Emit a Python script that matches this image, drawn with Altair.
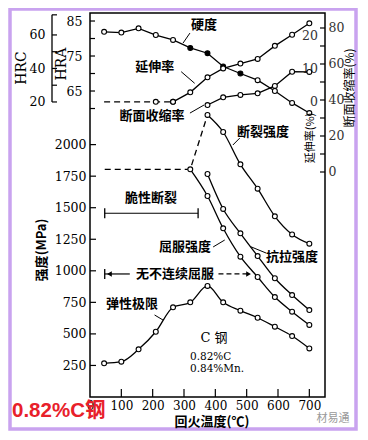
import altair as alt
import pandas as pd

# ---------------- values ----------------
temps = [45, 100, 155, 210, 265, 320, 375, 425, 480, 535, 590, 645, 700]
elastic_limit = [267, 280, 378, 517, 711, 750, 880, 750, 684, 628, 557, 483, 385]
hardness_hra = [81.9, 81.7, 82.9, 81.0, 79.6, 77.3, 75.8, 72.0, 70.0, 68.1, 65.0, 61.6, 58.7]

yield_T = [320, 375, 425, 480, 535, 590, 645, 700]
yield_strength = [1804, 1593, 1337, 1112, 951, 792, 676, 571]

upper_T = [375, 425, 480, 535, 590, 645, 700]
tensile_strength = [1767, 1490, 1297, 1117, 941, 808, 689]
fracture_strength = [2235, 2100, 1844, 1651, 1432, 1288, 1215]
reduction_area = [37.2, 41.5, 42.8, 43.7, 47.8, 55.7, 55.6]

elong_T = [265, 320, 375, 425, 480, 535, 590, 645, 700]
elongation = [0, 2.9, 7.5, 10.2, 11.7, 13.1, 17.1, 20.5, 24.0]
elong_zero_T = [45, 210, 265]
elong_zero = [0, 0, 0]

brittle_dash_T = [47, 320, 375]
brittle_dash_mpa = [1804, 1804, 2235]
brittle_span = [47, 345]
brittle_level = 1456
no_yield_level = 975
no_yield_left = [47, 127]
no_yield_right = [410, 512]

mpa_ticks = [250, 500, 750, 1000, 1250, 1500, 1750, 2000]
hra_ticks = [60, 65, 70, 75, 80, 85]
hra_labels = [65, 75, 85]
hrc_ticks = [20, 30, 40, 50, 60, 72]
hrc_labels = [20, 40, 60]
hrc_span = [20, 72]
ra_ticks = [0, 10, 20, 30, 40, 50, 60, 70, 80]
ra_labels = [0, 20, 40, 60, 80]
el_labels = [0, 10, 20]
x_ticks = [100, 200, 300, 400, 500, 600, 700]
x_labels = [0, 100, 200, 300, 400, 500, 600, 700]

# ---------------- setup ----------------
W, H = 235, 384
SERIF = "DejaVu Serif"
CJK = "Noto Sans CJK SC"
MIX = "DejaVu Serif, Noto Sans CJK SC"

XS = alt.Scale(domain=[0, 750], nice=False, zero=False)
XAX = alt.Axis(values=x_labels, ticks=False, domain=False, grid=False,
               labelFont=SERIF, labelFontSize=12, labelColor="black",
               labelPadding=3, labelFlush=False, format="d", title=None)

MPA = alt.Scale(domain=[0, 3043], nice=False, zero=False)
HRA = alt.Scale(domain=[-22.43, 87.29], nice=False, zero=False)
HRC = alt.Scale(domain=[-156.1, 73.1], nice=False, zero=False)
EL = alt.Scale(domain=[-90.16, 27.14], nice=False, zero=False)
RA = alt.Scale(domain=[-125.0, 88.33], nice=False, zero=False)


def X(field="T"):
    return alt.X(f"{field}:Q", scale=XS, axis=XAX)


def Y(scale, field="v", axis=None):
    return alt.Y(f"{field}:Q", scale=scale, axis=axis)


def frame(**cols):
    return pd.DataFrame(cols)


def line_layer(T, v, scale, dash=None, interp="monotone", width=1.3):
    kw = dict(color="black", strokeWidth=width, interpolate=interp)
    if dash:
        kw["strokeDash"] = dash
    return alt.Chart(frame(T=T, v=v)).mark_line(**kw).encode(x=X(), y=Y(scale))


def point_layer(T, v, scale, fill="white", flt=None):
    c = alt.Chart(frame(T=T, v=v))
    if flt is not None:
        c = c.transform_filter(flt)
    return c.mark_point(shape="circle", filled=True, fill=fill, stroke="black",
                        strokeWidth=1.1, size=24, opacity=1).encode(x=X(), y=Y(scale))


def label(text, T, v, size=13, align="center", font=CJK, weight="bold"):
    return alt.Chart(frame(T=[T], v=[v])).mark_text(
        text=text, fontSize=size, font=font, align=align, baseline="middle",
        color="black", fontWeight=weight).encode(x=X(), y=Y(MPA))


def leader(T0, v0, T1, v1):
    return alt.Chart(frame(T=[T0, T1], v=[v0, v1])).mark_line(
        color="black", strokeWidth=1).encode(x=X(), y=Y(MPA))


def ptext(text, px, py, size, font=CJK, angle=0, align="center",
          color="black", weight="normal"):
    return alt.Chart(frame(a=[0])).mark_text(
        text=text, fontSize=size, font=font, angle=angle, align=align,
        baseline="middle", color=color, fontWeight=weight).encode(
        x=alt.value(px - 90), y=alt.value(py - 13))


AXIS_LABEL = dict(ticks=False, domain=False, grid=False, labelFont=SERIF,
                  labelFontSize=12.5, title=None, format="d")

layers = []

# outer purple frame
layers.append(alt.Chart(frame(a=[0])).mark_rect(
    fillOpacity=0, stroke="#c9a3ef", strokeWidth=3.5).encode(
    x=alt.value(-80), x2=alt.value(266), y=alt.value(-4), y2=alt.value(416)))

# ---- axes: MPa (left) with inward ticks ----
layers.append(alt.Chart(frame(v=mpa_ticks)).mark_rule(color="black", strokeWidth=1.2).encode(
    y=Y(MPA, axis=alt.Axis(orient="left", values=mpa_ticks, labelColor="black",
                           labelPadding=4, **AXIS_LABEL)),
    x=alt.value(0), x2=alt.value(6)))

# HRA (left, upper part)
layers.append(alt.Chart(frame(v=hra_ticks)).mark_rule(color="black", strokeWidth=1.2).encode(
    y=Y(HRA, axis=alt.Axis(orient="left", values=hra_labels, labelColor="black",
                           labelPadding=8, **AXIS_LABEL)),
    x=alt.value(0), x2=alt.value(5)))

# HRC bracket axis
layers.append(alt.Chart(frame(lo=[hrc_span[0]], hi=[hrc_span[1]])).mark_rule(
    color="black", strokeWidth=1.3).encode(
    y=alt.Y("lo:Q", scale=HRC, axis=alt.Axis(orient="left", offset=38, values=hrc_labels,
                                             labelColor="black", labelPadding=7,
                                             **AXIS_LABEL)),
    y2="hi:Q", x=alt.value(-38)))
layers.append(alt.Chart(frame(v=hrc_ticks)).mark_rule(color="black", strokeWidth=1.2).encode(
    y=Y(HRC), x=alt.value(-38), x2=alt.value(-33)))

# RA (right) with inward ticks
layers.append(alt.Chart(frame(v=ra_ticks)).mark_rule(color="black", strokeWidth=1.2).encode(
    y=Y(RA, axis=alt.Axis(orient="right", values=ra_labels, labelColor="#333",
                          labelPadding=3, **AXIS_LABEL)),
    x=alt.value(W), x2=alt.value(W - 5)))

# Elongation labels (inside, left of right axis)
layers.append(alt.Chart(frame(v=el_labels)).mark_text(
    align="right", baseline="middle", font=SERIF, fontSize=12.5, color="#333").encode(
    y=Y(EL), x=alt.value(W - 7), text=alt.Text("v:Q", format="d")))

# x ticks (inward)
layers.append(alt.Chart(frame(T=x_ticks)).mark_rule(color="black", strokeWidth=1.2).encode(
    x=X(), y=alt.value(H), y2=alt.value(H - 8)))

# ---- curves ----
# hardness (HRA)
layers.append(line_layer(temps, hardness_hra, HRA, interp="linear"))
layers.append(point_layer(temps, hardness_hra, HRA,
                          flt=(alt.datum.T < 320) | (alt.datum.T > 480)))
layers.append(point_layer(temps, hardness_hra, HRA, fill="black",
                          flt=(alt.datum.T >= 320) & (alt.datum.T <= 480)))

# elongation
layers.append(line_layer(elong_zero_T, elong_zero, EL, dash=[6, 4], interp="linear"))
layers.append(point_layer(elong_zero_T[1:], elong_zero[1:], EL))
layers.append(line_layer(elong_T, elongation, EL, interp="linear"))
layers.append(point_layer(elong_T, elongation, EL))

# reduction of area
layers.append(line_layer(upper_T, reduction_area, RA, interp="linear"))
layers.append(point_layer(upper_T, reduction_area, RA))

# strengths
layers.append(line_layer(brittle_dash_T, brittle_dash_mpa, MPA, dash=[6, 4], interp="linear"))
layers.append(line_layer(upper_T, fracture_strength, MPA))
layers.append(point_layer(upper_T, fracture_strength, MPA))
layers.append(line_layer(yield_T, yield_strength, MPA))
layers.append(point_layer(yield_T, yield_strength, MPA))
layers.append(line_layer(upper_T, tensile_strength, MPA))
layers.append(point_layer(upper_T, tensile_strength, MPA))
layers.append(line_layer(temps, elastic_limit, MPA))
layers.append(point_layer(temps, elastic_limit, MPA))

# brittle fracture bracket
layers.append(alt.Chart(frame(T=[brittle_span[0]], T2=[brittle_span[1]], v=[brittle_level]))
              .mark_rule(color="black", strokeWidth=1.2)
              .encode(x=X(), x2="T2:Q", y=Y(MPA)))
layers.append(alt.Chart(frame(T=brittle_span, v=[brittle_level] * 2))
              .mark_tick(orient="vertical", size=10, thickness=1.3, color="black", opacity=1)
              .encode(x=X(), y=Y(MPA)))

# no discontinuous yield arrow
layers.append(alt.Chart(frame(T=[no_yield_left[0]], T2=[no_yield_left[1]], v=[no_yield_level]))
              .mark_rule(color="black", strokeWidth=1.2)
              .encode(x=X(), x2="T2:Q", y=Y(MPA)))
layers.append(alt.Chart(frame(T=[no_yield_left[0]], v=[no_yield_level]))
              .mark_tick(orient="vertical", size=10, thickness=1.3, color="black", opacity=1)
              .encode(x=X(), y=Y(MPA)))
layers.append(alt.Chart(frame(T=[no_yield_left[0] + 15], v=[no_yield_level]))
              .mark_point(shape="triangle-left", filled=True, color="black", size=30, opacity=1)
              .encode(x=X(), y=Y(MPA)))
layers.append(alt.Chart(frame(T=no_yield_right, v=[no_yield_level] * 2))
              .mark_line(color="black", strokeWidth=1.2, strokeDash=[5, 3])
              .encode(x=X(), y=Y(MPA)))
layers.append(alt.Chart(frame(T=[no_yield_right[1] - 6], v=[no_yield_level]))
              .mark_point(shape="triangle-right", filled=True, color="black", size=30, opacity=1)
              .encode(x=X(), y=Y(MPA)))

# ---- in-plot labels ----
layers += [
    label("硬度", 364, 2948),
    label("延伸率", 207, 2615),
    label("断面收缩率", 198, 2227),
    label("断裂强度", 552, 2100),
    label("屈服强度", 303, 1189),
    label("抗拉强度", 645, 1109),
    label("弹性极限", 134, 737),
    label("脆性断裂", 195, 1577),
    label("无不连续屈服", 271, 975),
    label("C 钢", 396, 467, size=13, font=MIX, weight="normal"),
    label("0.82%C", 319, 320, size=10.5, align="left", font=SERIF, weight="normal"),
    label("0.84%Mn.", 319, 218, size=10.5, align="left", font=SERIF, weight="normal"),
    leader(297, 2805, 319, 2884),
    leader(291, 2578, 334, 2486),
    leader(319, 2250, 364, 2314),
    leader(478, 2052, 456, 1997),
    leader(393, 1189, 430, 1244),
    leader(562, 1141, 513, 1191),
    leader(206, 650, 233, 610),
]

# ---- outside titles ----
layers += [
    ptext("强度(MPa)", 42, 250, 13, angle=270, weight="bold"),
    ptext("HRC", 22, 68, 14, font=SERIF, angle=270),
    ptext("HRA", 62, 64, 14, font=SERIF, angle=270),
    ptext("回火温度(℃)", 212, 422, 13, weight="bold"),
    ptext("延伸率(%)", 311, 138, 11, angle=270),
    ptext("断面收缩率(%)", 350, 88, 12, angle=270),
    ptext("0.82%C钢", 12, 411, 20.5, font="Liberation Sans, Noto Sans CJK SC",
          align="left", color="#e8202a", weight="bold"),
    ptext("材易通", 333, 419, 11, color="#999999"),
]

chart = alt.layer(*layers).resolve_scale(y="independent").properties(
    width=W, height=H,
    autosize=alt.AutoSizeParams(type="none"),
    padding={"left": 82, "top": 5, "right": 35, "bottom": 35},
).configure_view(stroke="black", strokeWidth=1.5)

chart.save("out.html", embed_options={"renderer": "svg", "actions": False})
